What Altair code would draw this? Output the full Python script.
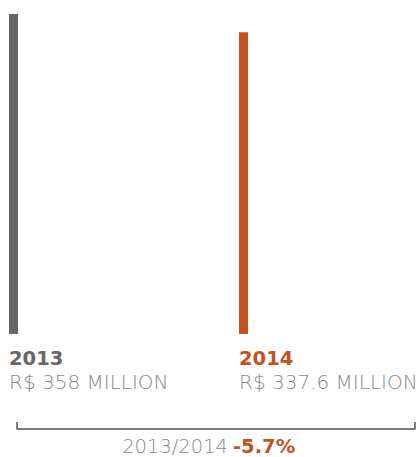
import altair as alt
import pandas as pd

years = ["2013", "2014"]
values = [358, 337.6]
value_labels = ["R$ 358 MILLION", "R$ 337.6 MILLION"]
bar_colors = ["#666666", "#c4521f"]
year_colors = ["#666666", "#c4521f"]
compare_label = "2013/2014"
change_label = "-5.7%"

df = pd.DataFrame({"year": years, "value": values, "label": value_labels})

x = alt.X("year:N", scale=alt.Scale(type="point", domain=years, range=[13.5, 243.5], padding=0), axis=None)
y = alt.Y("value:Q", scale=alt.Scale(domain=[0, 358], range=[334, 14]), axis=None)
col = alt.Color("year:N", scale=alt.Scale(domain=years, range=bar_colors), legend=None)

bars = alt.Chart(df).mark_bar(size=9).encode(x=x, y=y, color=col)

year_text = alt.Chart(df).mark_text(
    align="left", baseline="alphabetic", dx=-4.5, font="DejaVu Sans", fontWeight=900, fontSize=19.5
).encode(x=x, y=alt.value(364.5), text="year:N",
         color=alt.Color("year:N", scale=alt.Scale(domain=years, range=year_colors), legend=None))

val_text = alt.Chart(df).mark_text(
    align="left", baseline="alphabetic", dx=-4.5, font="DejaVu Sans", fontWeight=200, fontSize=20,
    color="#888888"
).encode(x=x, y=alt.value(388.5), text="label:N")

bracket_df = pd.DataFrame({"a": [0]})
hline = alt.Chart(bracket_df).mark_rule(color="#555555", strokeWidth=1.5).encode(
    x=alt.value(17), x2=alt.value(415), y=alt.value(429))
ltick = alt.Chart(bracket_df).mark_rule(color="#555555", strokeWidth=1.5).encode(
    x=alt.value(17), y=alt.value(422), y2=alt.value(429.5))
rtick = alt.Chart(bracket_df).mark_rule(color="#555555", strokeWidth=1.5).encode(
    x=alt.value(415), y=alt.value(422), y2=alt.value(429.5))

cmp_text = alt.Chart(pd.DataFrame({"t": [compare_label]})).mark_text(
    align="right", baseline="alphabetic", font="DejaVu Sans", fontWeight=200, fontSize=19.5, color="#888888"
).encode(x=alt.value(228), y=alt.value(452.5), text="t:N")
chg_text = alt.Chart(pd.DataFrame({"t": [change_label]})).mark_text(
    align="left", baseline="alphabetic", font="DejaVu Sans", fontWeight=900, fontSize=19.5, color="#c4521f"
).encode(x=alt.value(233), y=alt.value(452.5), text="t:N")

chart = alt.layer(bars, year_text, val_text, hline, ltick, rtick, cmp_text, chg_text).properties(
    width=417, height=457, padding=0, autosize=alt.AutoSizeParams(type="none")
).configure_view(stroke=None)

chart.save("out.html", embed_options={"renderer": "svg", "actions": False})
